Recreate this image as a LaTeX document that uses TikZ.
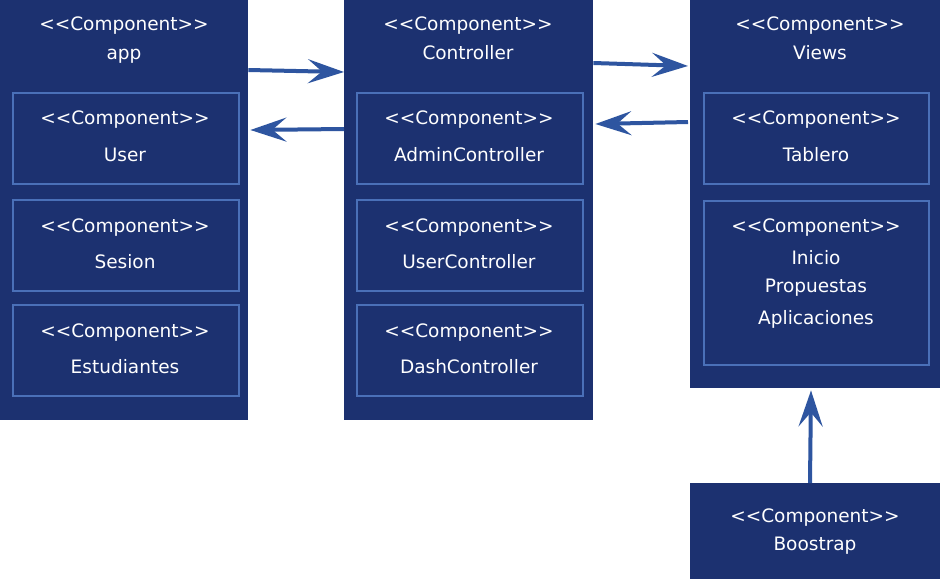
\documentclass[tikz,border=0pt]{standalone}
\usepackage{fontspec}
\setmainfont{DejaVu Sans}
\usetikzlibrary{arrows.meta,calc}
\definecolor{navy}{HTML}{1C3170}
\definecolor{inner}{HTML}{4A70B8}
\definecolor{arrowc}{HTML}{2E55A0}
\newcommand\stereo{<\kern0pt<Component>\kern0pt>}
\begin{document}
\begin{tikzpicture}[x=1pt,y=-1pt,
  outerbox/.style={fill=navy,draw=none,anchor=north west,inner sep=0pt},
  innerbox/.style={fill=navy,draw=inner,line width=2pt,anchor=north west,inner sep=0pt},
  lbl/.style={text=white,font=\fontsize{18.5}{22}\selectfont,inner sep=0pt,anchor=base},
  conn/.style={draw=arrowc,line width=4pt,-{Stealth[length=36pt,width=24pt,inset=14pt]}}]
\useasboundingbox[fill=white] (0,0) rectangle (940,579);
% outer components
\node[outerbox,minimum width=248pt,minimum height=420pt] (app) at (0,0) {};
\node[outerbox,minimum width=249pt,minimum height=420pt] (ctrl) at (344,0) {};
\node[outerbox,minimum width=250pt,minimum height=388pt] (views) at (690,0) {};
\node[outerbox,minimum width=250pt,minimum height=96pt] (boot) at (690,483) {};
% outer labels
\node[lbl] (appS) at (124,30) {\stereo};
\node[lbl] (appN) at (124,59) {app};
\node[lbl] (ctrlS) at (468,30) {\stereo};
\node[lbl] (ctrlN) at (468,59) {Controller};
\node[lbl] (viewsS) at (820,30) {\stereo};
\node[lbl] (viewsN) at (820,59) {Views};
\node[lbl] (bootS) at (815,522) {\stereo};
\node[lbl] (bootN) at (815,550) {Boostrap};
% inner boxes app
\node[innerbox,minimum width=226pt,minimum height=91pt] (user) at (12,92) {};
\node[innerbox,minimum width=226pt,minimum height=91pt] (sesion) at (12,199) {};
\node[innerbox,minimum width=226pt,minimum height=91pt] (est) at (12,304) {};
\node[lbl] (userS) at (125,124) {\stereo};
\node[lbl] (userN) at (125,161) {User};
\node[lbl] (sesionS) at (125,232) {\stereo};
\node[lbl] (sesionN) at (125,268) {Sesion};
\node[lbl] (estS) at (125,337) {\stereo};
\node[lbl] (estN) at (125,373) {Estudiantes};
% inner boxes controller
\node[innerbox,minimum width=226pt,minimum height=91pt] (admin) at (356,92) {};
\node[innerbox,minimum width=226pt,minimum height=91pt] (userc) at (356,199) {};
\node[innerbox,minimum width=226pt,minimum height=91pt] (dash) at (356,304) {};
\node[lbl] (adminS) at (469,124) {\stereo};
\node[lbl] (adminN) at (469,161) {AdminController};
\node[lbl] (usercS) at (469,232) {\stereo};
\node[lbl] (usercN) at (469,268) {UserController};
\node[lbl] (dashS) at (469,337) {\stereo};
\node[lbl] (dashN) at (469,373) {DashController};
% inner boxes views
\node[innerbox,minimum width=225pt,minimum height=91pt] (tablero) at (703,92) {};
\node[innerbox,minimum width=225pt,minimum height=164pt] (inicio) at (703,200) {};
\node[lbl] (tabS) at (816,124) {\stereo};
\node[lbl] (tabN) at (816,161) {Tablero};
\node[lbl] (iniS) at (816,232) {\stereo};
\node[lbl] (iniN) at (816,264) {Inicio};
\node[lbl] (iniN2) at (816,292) {Propuestas};
\node[lbl] (iniN3) at (816,324) {Aplicaciones};
% connectors
\draw[conn] ([yshift=-70pt]app.north east) -- ([yshift=-72pt]ctrl.north west);
\draw[conn] ([yshift=-129pt]ctrl.north west) -- ([xshift=2pt,yshift=-130pt]app.north east);
\draw[conn] ([yshift=-63pt]ctrl.north east) -- ([xshift=-2pt,yshift=-66pt]views.north west);
\draw[conn] ([xshift=-2pt,yshift=-122pt]views.north west) -- ([xshift=2pt,yshift=-124pt]ctrl.north east);
\draw[conn] ([xshift=120pt]boot.north west) -- ([xshift=121pt,yshift=-2pt]views.south west);
\end{tikzpicture}
\end{document}
